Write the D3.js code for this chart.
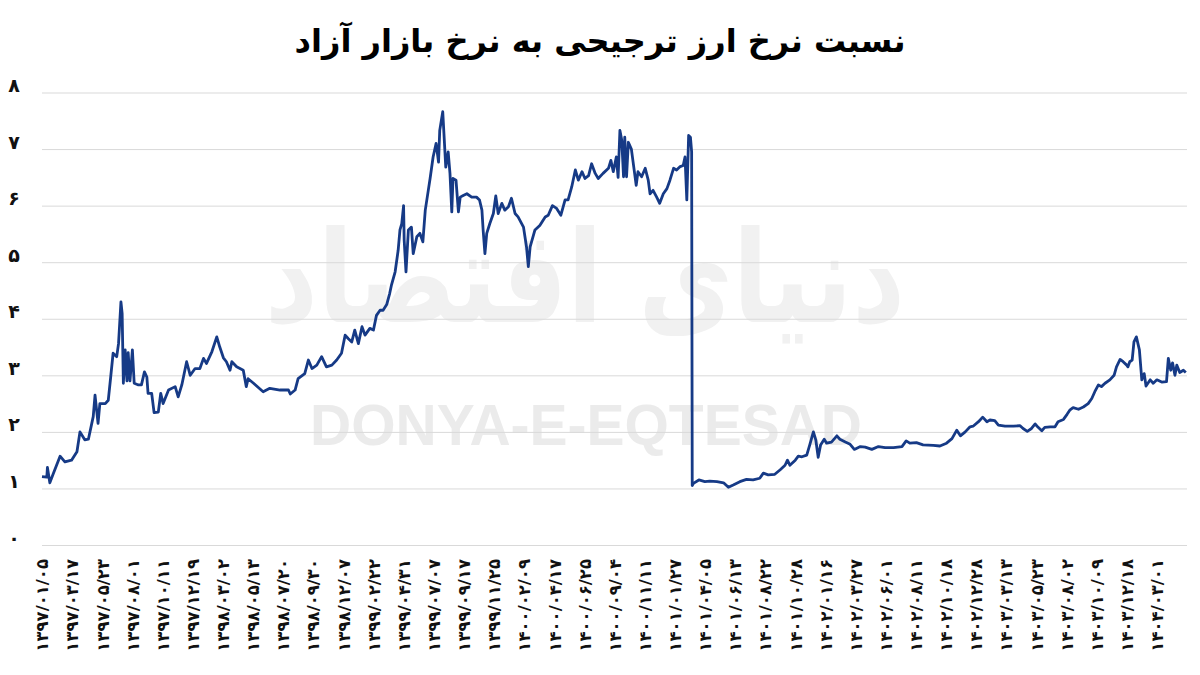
<!DOCTYPE html>
<html><head><meta charset="utf-8">
<script src="https://cdn.jsdelivr.net/npm/d3@7"></script>
<style>body{margin:0;background:#fff} svg{display:block}</style>
</head><body><svg id="c" width="1200" height="675"></svg>
<script>
const title = "نسبت نرخ ارز ترجیحی به نرخ بازار آزاد";
const watermarkFa = "دنیای اقتصاد";
const watermarkEn = "DONYA-E-EQTESAD";
const tickLabels = [
 "۱۳۹۷/۰۱/۰۵","۱۳۹۷/۰۳/۱۷","۱۳۹۷/۰۵/۲۳","۱۳۹۷/۰۸/۰۱","۱۳۹۷/۱۰/۱۱","۱۳۹۷/۱۲/۱۹",
 "۱۳۹۸/۰۳/۰۲","۱۳۹۸/۰۵/۱۳","۱۳۹۸/۰۷/۲۰","۱۳۹۸/۰۹/۳۰","۱۳۹۸/۱۲/۰۷",
 "۱۳۹۹/۰۲/۲۲","۱۳۹۹/۰۴/۳۱","۱۳۹۹/۰۷/۰۷","۱۳۹۹/۰۹/۱۷","۱۳۹۹/۱۱/۲۵",
 "۱۴۰۰/۰۲/۰۹","۱۴۰۰/۰۴/۱۷","۱۴۰۰/۰۶/۲۵","۱۴۰۰/۰۹/۰۴","۱۴۰۰/۱۱/۱۱",
 "۱۴۰۱/۰۱/۲۷","۱۴۰۱/۰۴/۰۵","۱۴۰۱/۰۶/۱۳","۱۴۰۱/۰۸/۲۲","۱۴۰۱/۱۰/۲۸",
 "۱۴۰۲/۰۱/۱۶","۱۴۰۲/۰۳/۲۷","۱۴۰۲/۰۶/۰۱","۱۴۰۲/۰۸/۱۱","۱۴۰۲/۱۰/۱۸","۱۴۰۲/۱۲/۲۸",
 "۱۴۰۳/۰۳/۱۳","۱۴۰۳/۰۵/۲۳","۱۴۰۳/۰۸/۰۲","۱۴۰۳/۱۰/۰۹","۱۴۰۳/۱۲/۱۸",
 "۱۴۰۴/۰۳/۰۱"
];
const pointsPerLabel = 50;
const yTicks = [0,1,2,3,4,5,6,7,8];

// trading-day index of each sampled point
const dayIndex = [
 0,8,9,13,19,30,38,49,58,63, 71,77,85,88,93,96,105,110,114,118,
 124,127,131,133,135,138,141,143,146,150, 153,160,165,170,174,176,182,186,193,197,
 201,210,221,226,232,240,246,254,262,268, 273,282,290,295,301,306,312,315,
 323,334,339,342,351,367,378,395,409,412, 420,425,436,442,448,456,464,472,481,489,
 497,503,508,514,519,525,531,536,544,550, 555,561,566,572,577,580,586,591,594,597,
 600,601,604,608,613,616,622,627,632,636, 641,644,649,654,658,660,665,667,670,674,
 677,680,682,687,691,694,699,705,713,721, 726,730,732,735,738,743,749,753,757,763,
 768,774,779,785,790,799,804,807,810,818,
 826,835,840,847,854,861,868,873,879,885, 890,896,901,907,912,918,923,931,940,944,
 948,953,956,959,962,965,967,970,973,978, 982,986,989,995,1001,1006,1009,1014,1020,1025,
 1031,1037,1042,1048,1053,1059,1064,1067,1070,1073, 1076,1078,1079,
 1081,1090,1100,1108,1120,1131,1139,1147,1158,1169, 1180,1191,1197,1205,1216,1225,1233,1237,1241,1250,
 1255,1261,1269,1274,1280,1284,1288,1292,1298,1302, 1310,1319,1324,1333,1341,1348,1358,1366,1377,1388,
 1399,1413,1427,1434,1440,1451,1462,1479,1490,1501, 1510,1518,1524,1532,1540,1545,1554,1561,1568,1573,
 1581,1587,1598,1612,1623,1628,1635,1642,1648,1653, 1659,1664,1673,1681,1686,1695,1701,1706,1711,1720,
 1728,1736,1742,1747,1753,1758,1764,1772,1779,1783, 1789,1794,1800,1802,1805,1809,1812,1816,1821,1825,
 1829,1832,1839,1844,1850,1858,1866,1869,1873,1876, 1880,1883,1888,1894,1898
];
// ratio of preferential rate to free-market rate
const ratio = [
 1.21,1.20,1.37,1.10,1.27,1.57,1.47,1.50,1.65,2.00, 1.86,1.87,2.27,2.65,2.15,2.50,2.50,2.56,2.97,3.39,
 3.33,3.56,4.30,4.09,2.86,3.45,2.90,3.40,2.90,3.45, 2.86,2.83,2.83,3.06,2.97,2.68,2.68,2.34,2.35,2.68,
 2.50,2.74,2.80,2.62,2.83,3.24,3.00,3.12,3.12,3.30, 3.21,3.42,3.68,3.50,3.31,3.24,3.09,3.24,
 3.15,3.09,2.80,2.94,2.86,2.71,2.77,2.74,2.74,2.67, 2.74,2.94,3.03,3.27,3.12,3.18,3.33,3.15,3.18,3.27,
 3.39,3.71,3.65,3.59,3.80,3.56,3.86,3.71,3.83,3.80, 4.06,4.15,4.15,4.25,4.45,4.60,4.83,5.21,5.57,5.68,
 6.00,5.39,4.83,5.57,5.62,5.15,5.45,5.51,5.36,5.92, 6.27,6.48,6.86,7.10,6.77,7.33,7.66,7.27,6.68,6.95,
 6.57,5.89,6.48,6.45,5.89,6.15,6.18,6.21,6.15,6.15, 6.10,5.92,5.57,5.15,5.51,5.68,5.86,6.17,5.86,6.04,
 5.92,5.98,6.13,5.86,5.80,5.62,5.27,4.92,5.27,5.57,
 5.65,5.80,5.83,6.00,5.95,5.83,6.10,6.10,6.33,6.63, 6.45,6.60,6.48,6.53,6.74,6.57,6.48,6.57,6.66,6.80,
 6.60,6.86,6.50,7.33,7.16,6.51,7.21,6.51,7.12,7.00, 6.68,6.36,6.60,6.51,6.66,6.45,6.21,6.27,6.15,6.04,
 6.21,6.30,6.45,6.66,6.63,6.69,6.71,6.86,6.10,7.24, 7.21,6.95,1.05,
 1.09,1.15,1.12,1.13,1.12,1.10,1.02,1.06,1.12,1.16, 1.15,1.18,1.27,1.24,1.25,1.33,1.41,1.50,1.41,1.50,
 1.57,1.56,1.59,1.77,2.00,1.86,1.55,1.77,1.87,1.80, 1.82,1.93,1.87,1.82,1.78,1.69,1.74,1.73,1.69,1.74,
 1.72,1.72,1.74,1.84,1.80,1.81,1.77,1.76,1.75,1.80, 1.88,2.03,1.93,2.00,2.09,2.10,2.18,2.26,2.18,2.21,
 2.20,2.12,2.10,2.10,2.11,2.06,2.01,2.06,2.14,2.08, 2.02,2.08,2.09,2.09,2.18,2.22,2.31,2.39,2.43,2.40,
 2.44,2.50,2.59,2.71,2.83,2.80,2.86,2.92,3.00,3.15, 3.28,3.24,3.18,3.15,3.24,3.27,3.59,3.68,3.45,2.92,
 3.03,2.81,2.92,2.86,2.92,2.88,2.89,3.30,3.09,3.22, 3.00,3.18,3.05,3.09,3.05
];

const data = dayIndex.map((t,i)=>({t, v: ratio[i]}));
const faDigits = n => String(n).replace(/\d/g, d => "۰۱۲۳۴۵۶۷۸۹"[d]);
const FONT = "'DejaVu Sans', sans-serif";

const svg = d3.select("#c");
const plot = {left:42, right:1187, top:92.5, bottom:545};
const x = d3.scaleLinear().domain([0, tickLabels.length*pointsPerLabel]).range([plot.left, plot.right]);
const y = d3.scaleLinear().domain([0, 8]).range([plot.bottom, plot.top]);

svg.append("rect").attr("width",1200).attr("height",675).attr("fill","#fff");

// watermarks
svg.append("text").text(watermarkFa)
  .attr("x",585).attr("y",322).attr("text-anchor","middle").attr("direction","rtl")
  .attr("font-family",FONT).attr("font-weight","bold").attr("font-size",128)
  .attr("textLength",640).attr("lengthAdjust","spacingAndGlyphs")
  .attr("fill","#f1f1f1");
svg.append("text").text(watermarkEn)
  .attr("x",586).attr("y",445).attr("text-anchor","middle")
  .attr("font-family","'Liberation Sans', Arial, sans-serif").attr("font-weight","bold").attr("font-size",57)
  .attr("textLength",552).attr("lengthAdjust","spacingAndGlyphs")
  .attr("fill","#ebebeb");

// title
svg.append("text").text(title)
  .attr("x",600).attr("y",52).attr("text-anchor","middle").attr("direction","rtl")
  .attr("font-family",FONT).attr("font-weight","bold").attr("font-size",32).attr("fill","#000");

// y axis + gridlines
const gy = svg.append("g").attr("transform",`translate(${plot.left},0)`)
  .call(d3.axisLeft(y).tickValues(yTicks).tickSize(-(plot.right-plot.left)).tickFormat(faDigits));
gy.select(".domain").remove();
gy.selectAll(".tick line").attr("stroke","#d9d9d9").attr("stroke-width",1);
gy.selectAll(".tick text").attr("x",-28).attr("dy","-0.05em").attr("text-anchor","middle")
  .attr("font-family",FONT).attr("font-weight","bold").attr("font-size",19).attr("fill","#111");

// x axis
const gx = svg.append("g").attr("transform",`translate(0,${plot.bottom})`)
  .call(d3.axisBottom(x).tickValues(tickLabels.map((_,i)=>i*pointsPerLabel)).tickSize(0)
        .tickFormat((d,i)=>tickLabels[i]));
gx.select(".domain").remove();
gx.selectAll(".tick text").attr("transform","rotate(-90)").attr("x",-14).attr("y",0).attr("dy","0.35em")
  .attr("text-anchor","end").attr("font-family",FONT).attr("font-weight","bold").attr("font-size",16.5).attr("fill","#111");

// line
svg.append("path").datum(data)
  .attr("d", d3.line().x(d=>x(d.t)).y(d=>y(d.v)))
  .attr("fill","none").attr("stroke","#163a86").attr("stroke-width",2.8).attr("stroke-linejoin","round");
</script></body></html>
